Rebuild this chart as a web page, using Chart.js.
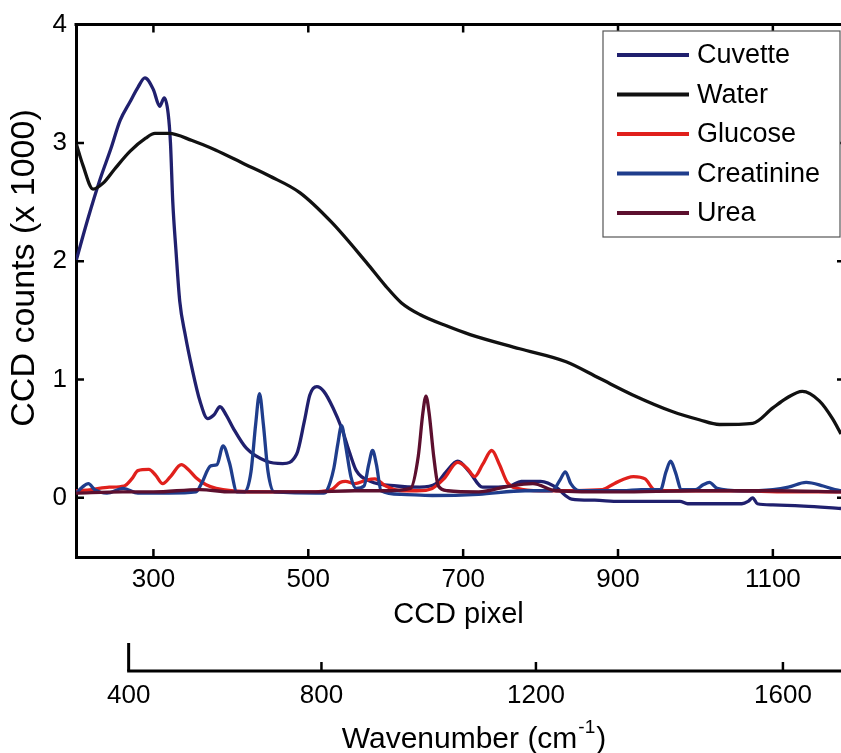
<!DOCTYPE html>
<html>
<head>
<meta charset="utf-8">
<script src="https://cdn.jsdelivr.net/npm/chart.js@4.4.1/dist/chart.umd.min.js"></script>
<style>
  html, body { margin: 0; padding: 0; background: #fff; }
</style>
</head>
<body>
<canvas id="myChart" width="841" height="753"></canvas>
<script>
// series names, in plotting order
var seriesNames = ["Cuvette", "Water", "Glucose", "Creatinine", "Urea"];

// values: x in CCD pixel, y in CCD counts (x 1000)
var cuvetteX = [200, 215, 231, 245, 257, 270, 280, 289, 300, 308, 314, 319, 322, 325, 329, 334, 341, 350, 360, 370, 378, 386, 394, 403, 420, 446, 467, 485, 495, 502, 511, 520, 532, 543, 554, 562, 580, 614, 644, 665, 678, 693, 708, 725, 760, 775, 800, 822, 832, 840, 870, 902, 950, 980, 990, 1060, 1068, 1074, 1080, 1100, 1140, 1188];
var cuvetteY = [2.00, 2.35, 2.69, 2.95, 3.19, 3.35, 3.47, 3.55, 3.45, 3.31, 3.38, 3.25, 3.00, 2.50, 2.10, 1.66, 1.38, 1.09, 0.82, 0.67, 0.70, 0.77, 0.70, 0.59, 0.42, 0.31, 0.29, 0.37, 0.65, 0.87, 0.94, 0.90, 0.76, 0.59, 0.37, 0.23, 0.14, 0.10, 0.09, 0.12, 0.22, 0.31, 0.22, 0.09, 0.10, 0.14, 0.14, 0.08, 0.02, -0.01, -0.02, -0.03, -0.03, -0.03, -0.05, -0.05, -0.03, 0.00, -0.05, -0.06, -0.07, -0.09];

var waterX = [200, 209, 222, 235, 250, 270, 290, 302, 320, 350, 380, 418, 450, 489, 530, 575, 600, 620, 644, 680, 709, 773, 833, 876, 919, 970, 1005, 1031, 1074, 1100, 1117, 1138, 1160, 1177, 1188];
var waterY = [3.00, 2.81, 2.61, 2.66, 2.78, 2.93, 3.04, 3.08, 3.08, 3.02, 2.94, 2.82, 2.72, 2.58, 2.33, 1.99, 1.79, 1.65, 1.55, 1.45, 1.38, 1.26, 1.15, 1.01, 0.87, 0.73, 0.66, 0.62, 0.63, 0.76, 0.84, 0.90, 0.82, 0.67, 0.54];

var glucoseX = [200, 220, 243, 262, 272, 280, 294, 303, 312, 322, 336, 345, 355, 368, 381, 400, 450, 500, 530, 541, 548, 560, 575, 586, 600, 620, 640, 660, 675, 693, 705, 715, 725, 737, 747, 757, 770, 800, 880, 895, 920, 935, 947, 980, 1050, 1120, 1188];
var glucoseY = [0.06, 0.07, 0.09, 0.10, 0.16, 0.23, 0.24, 0.19, 0.12, 0.18, 0.28, 0.24, 0.17, 0.11, 0.08, 0.06, 0.05, 0.05, 0.07, 0.13, 0.14, 0.12, 0.15, 0.16, 0.10, 0.06, 0.06, 0.08, 0.16, 0.30, 0.25, 0.18, 0.28, 0.40, 0.28, 0.13, 0.08, 0.06, 0.07, 0.12, 0.18, 0.16, 0.07, 0.06, 0.06, 0.05, 0.05];

var creatinineX = [200, 208, 216, 224, 240, 261, 280, 320, 355, 362, 374, 382, 390, 398, 408, 418, 426, 432, 437, 442, 448, 456, 520, 524, 533, 538, 543, 548, 555, 562, 572, 578, 583, 588, 594, 620, 660, 720, 780, 815, 825, 832, 839, 850, 880, 906, 930, 955, 962, 968, 974, 982, 1000, 1010, 1018, 1028, 1060, 1100, 1120, 1143, 1165, 1180, 1188];
var creatinineY = [0.04, 0.09, 0.12, 0.07, 0.04, 0.08, 0.04, 0.04, 0.05, 0.12, 0.27, 0.28, 0.44, 0.30, 0.05, 0.05, 0.22, 0.62, 0.88, 0.62, 0.22, 0.05, 0.04, 0.06, 0.25, 0.45, 0.61, 0.45, 0.18, 0.08, 0.10, 0.28, 0.40, 0.28, 0.06, 0.03, 0.02, 0.03, 0.06, 0.06, 0.15, 0.22, 0.12, 0.06, 0.06, 0.06, 0.07, 0.07, 0.22, 0.31, 0.22, 0.07, 0.07, 0.11, 0.13, 0.08, 0.06, 0.07, 0.09, 0.13, 0.10, 0.07, 0.06];

var ureaX = [200, 260, 300, 360, 400, 500, 560, 600, 632, 642, 648, 652, 656, 662, 668, 680, 720, 760, 790, 820, 900, 1000, 1100, 1188];
var ureaY = [0.04, 0.05, 0.05, 0.07, 0.05, 0.05, 0.06, 0.06, 0.08, 0.35, 0.72, 0.86, 0.72, 0.35, 0.10, 0.06, 0.05, 0.10, 0.12, 0.06, 0.05, 0.06, 0.06, 0.05];

// tick labels
var pixelTicks = [300, 500, 700, 900, 1100];
var countTicks = [0, 1, 2, 3, 4];
// wavenumber axis: label and the CCD pixel where it sits
var wnTicks = [400, 800, 1200, 1600];
var wnPixel = [268, 517, 794, 1113];

var colors = ["#20206e", "#111111", "#e0201c", "#1f3d8c", "#5c0f2e"];
var FONT = '"Liberation Sans", Arial, Helvetica, sans-serif';

function pts(xs, ys) {
  return xs.map(function (x, i) { return { x: x, y: ys[i] }; });
}

var allX = [cuvetteX, waterX, glucoseX, creatinineX, ureaX];
var allY = [cuvetteY, waterY, glucoseY, creatinineY, ureaY];

var datasets = seriesNames.map(function (name, i) {
  return {
    label: name,
    data: pts(allX[i], allY[i]),
    borderColor: colors[i],
    backgroundColor: colors[i],
    showLine: true,
    order: seriesNames.length - i
  };
});

var framePlugin = {
  id: "frame",
  afterDraw: function (chart) {
    var ctx = chart.ctx;
    var a = chart.chartArea;
    var xs = chart.scales.x, ys = chart.scales.y;
    ctx.save();
    ctx.strokeStyle = "#000";
    ctx.fillStyle = "#000";

    // top of the box
    ctx.lineWidth = 3;
    ctx.beginPath();
    ctx.moveTo(a.left - 1.5, a.top);
    ctx.lineTo(chart.width, a.top);
    ctx.stroke();

    // inward ticks, matlab style
    ctx.lineWidth = 2.5;
    pixelTicks.forEach(function (v) {
      var px = xs.getPixelForValue(v);
      ctx.beginPath();
      ctx.moveTo(px, a.bottom); ctx.lineTo(px, a.bottom - 8);
      ctx.moveTo(px, a.top); ctx.lineTo(px, a.top + 8);
      ctx.stroke();
    });
    countTicks.forEach(function (v) {
      var py = ys.getPixelForValue(v);
      ctx.beginPath();
      ctx.moveTo(a.left, py); ctx.lineTo(a.left + 8, py);
      ctx.moveTo(chart.width, py); ctx.lineTo(chart.width - 4, py);
      ctx.stroke();
    });

    // y title
    ctx.save();
    ctx.translate(25, 268);
    ctx.rotate(-Math.PI / 2);
    ctx.font = "34px " + FONT;
    ctx.textAlign = "center";
    ctx.textBaseline = "middle";
    ctx.fillText("CCD counts (x 1000)", 0, 0);
    ctx.restore();

    // legend
    var lx = 603, ly = 31, lw = 237, lh = 206;
    ctx.fillStyle = "#fff";
    ctx.fillRect(lx, ly, lw, lh);
    ctx.lineWidth = 1.2;
    ctx.strokeStyle = "#555";
    ctx.strokeRect(lx, ly, lw, lh);
    ctx.font = "27px " + FONT;
    ctx.textAlign = "left";
    ctx.textBaseline = "middle";
    chart.data.datasets.forEach(function (ds, i) {
      var cy = 55 + i * 39.5;
      ctx.strokeStyle = ds.borderColor;
      ctx.lineWidth = 4;
      ctx.beginPath();
      ctx.moveTo(617, cy); ctx.lineTo(689, cy);
      ctx.stroke();
      ctx.fillStyle = "#000";
      ctx.fillText(ds.label, 697, cy + 1);
    });

    // second axis: wavenumber
    var axisY = 671;
    ctx.strokeStyle = "#000";
    ctx.fillStyle = "#000";
    ctx.lineWidth = 3;
    var x0 = xs.getPixelForValue(wnPixel[0]);
    ctx.beginPath();
    ctx.moveTo(x0 - 1.5, axisY); ctx.lineTo(chart.width, axisY);
    ctx.stroke();
    ctx.font = "26px " + FONT;
    ctx.textAlign = "center";
    ctx.textBaseline = "middle";
    wnPixel.forEach(function (p, i) {
      var px = xs.getPixelForValue(p);
      ctx.lineWidth = i === 0 ? 3 : 2.5;
      ctx.beginPath();
      ctx.moveTo(px, axisY); ctx.lineTo(px, axisY - (i === 0 ? 28 : 9));
      ctx.stroke();
      ctx.fillText(String(wnTicks[i]), px, 696);
    });

    // wavenumber title with superscript
    var big = "30px " + FONT, small = "19px " + FONT;
    var t1 = "Wavenumber (cm", t2 = "-1", t3 = ")";
    ctx.font = big; var w1 = ctx.measureText(t1).width, w3 = ctx.measureText(t3).width;
    ctx.font = small; var w2 = ctx.measureText(t2).width;
    var sx = 473 - (w1 + w2 + w3) / 2, ty = 740;
    ctx.textAlign = "left";
    ctx.font = big; ctx.fillText(t1, sx, ty);
    ctx.font = small; ctx.fillText(t2, sx + w1 + 1, ty - 12);
    ctx.font = big; ctx.fillText(t3, sx + w1 + w2 + 2, ty);
    ctx.restore();
  }
};

new Chart(document.getElementById("myChart"), {
  type: "scatter",
  data: { datasets: datasets },
  options: {
    responsive: false,
    animation: false,
    devicePixelRatio: 1,
    layout: { padding: { top: 21, right: 0, left: 0, bottom: 0 } },
    plugins: { legend: { display: false }, tooltip: { enabled: false } },
    elements: {
      point: { radius: 0 },
      line: { borderWidth: 3.3, cubicInterpolationMode: "monotone" }
    },
    scales: {
      x: {
        type: "linear",
        min: 200,
        max: 1188,
        grid: { display: false, drawTicks: false },
        border: { display: true, color: "#000", width: 3 },
        afterBuildTicks: function (s) { s.ticks = pixelTicks.map(function (v) { return { value: v }; }); },
        ticks: {
          color: "#000", font: { family: FONT, size: 26 }, padding: 7, maxRotation: 0, autoSkip: false,
          callback: function (v) { return String(v); }
        },
        title: { display: true, text: "CCD pixel", color: "#000", font: { family: FONT, size: 29 }, padding: { top: 0, bottom: 121 } },
        afterFit: function (s) { s.height = 196; }
      },
      y: {
        type: "linear",
        min: -0.5,
        max: 4,
        grid: { display: false, drawTicks: false },
        border: { display: true, color: "#000", width: 3 },
        afterBuildTicks: function (s) { s.ticks = countTicks.map(function (v) { return { value: v }; }); },
        ticks: { color: "#000", font: { family: FONT, size: 26 }, padding: 9, callback: function (v) { return String(v); } },
        afterFit: function (s) { s.width = 76; }
      }
    }
  },
  plugins: [framePlugin]
});
</script>
</body>
</html>
